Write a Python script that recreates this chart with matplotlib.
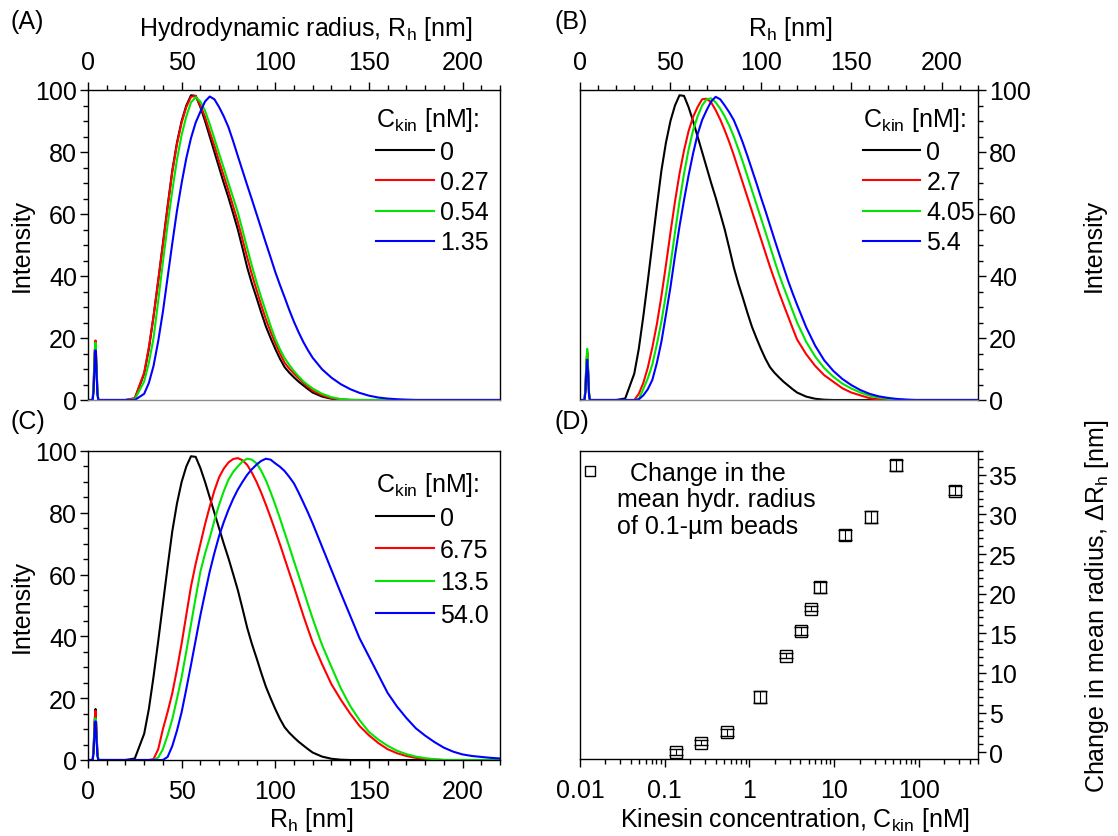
import matplotlib
matplotlib.use("Agg")
import matplotlib.pyplot as plt
from matplotlib.lines import Line2D
from matplotlib.ticker import MultipleLocator, LogLocator, FixedLocator, FixedFormatter, NullFormatter

plt.rcParams["font.family"] = ["Liberation Sans", "DejaVu Sans"]
plt.rcParams["mathtext.default"] = "regular"
plt.rcParams["font.size"] = 18

# hydrodynamic radius sampling (nm): narrow peak near 4 nm, then the main distribution
rh_spike = [0, 2.5, 3.0, 3.5, 4.0, 4.5, 5.0, 5.5, 6.0]
rh_main = [20, 25] + [30 + 2.5 * i for i in range(37)] + list(range(125, 225, 5))

# intensity of the main peak, read on rh_main
int_control = [0, 0.5,
               8.5, 16.5, 27, 38.5, 50.5, 62.5, 74, 83, 90, 95, 98.3, 98.1, 94.5, 90, 85, 80, 75, 70,
               65.3, 60.2, 55, 49, 42.8, 37.6, 33, 28.2, 23.7, 20, 16.5, 13.3, 10.6, 8.8, 7.3, 5.9, 4.7, 3.5, 2.4,
               1.1, 0.4, 0.1] + [0] * 17
int_027 = [0, 0.6,
           8.8, 17, 27, 38.5, 50, 62, 73.5, 82.5, 89.5, 94.5, 97.8, 98.1, 95, 91.3, 86.5, 82, 77, 72.3,
           67.5, 62.5, 57.5, 51.8, 46, 40.5, 35.5, 30.6, 26, 22, 18.3, 15, 12, 10.1, 8.5, 7, 5.5, 4.2, 3,
           1.5, 0.6, 0.2] + [0] * 17
int_054 = [0, 0.2,
           6, 12, 20, 32, 44.5, 56.5, 67.5, 77.5, 85.5, 91.5, 96, 97.7, 96.3, 93.3, 89, 84.3, 79.5, 74.8,
           70, 65.3, 60.5, 54.8, 49, 43.3, 38, 33.1, 28.5, 23.9, 19.7, 16.4, 13.5, 11.3, 9.3, 7.6, 6, 4.8, 3.7,
           2, 0.9, 0.3, 0.1] + [0] * 16
int_135 = [0, 0,
           2, 5.5, 11, 19, 28.5, 39.5, 50.5, 61, 70, 78, 84.5, 89.5, 93, 96.3, 97.9, 97, 94.5, 91.5,
           88, 83.5, 78.7, 74, 69.3, 64.7, 60, 55.3, 50.6, 46, 41.3, 37.1, 33.1, 29, 25.2, 21.8, 18.7, 16, 13.6,
           9.9, 7.2, 5.1, 3.5, 2.3, 1.4, 0.8, 0.45, 0.25, 0.1] + [0] * 10
int_27 = [0, 0,
          0, 2, 5.5, 10.5, 17, 24.5, 33.5, 43.5, 54, 64, 73, 80.5, 86.7, 91.3, 94.5, 97, 97.2, 96,
          93.5, 90.5, 87, 83.2, 79, 74.5, 70, 65.5, 61, 56.5, 52, 47.5, 43, 38.8, 34.7, 30.8, 27, 23.2, 19.5,
          14.8, 11, 8, 5.9, 3.8, 2.4, 1.5, 0.6, 0.25, 0.05] + [0] * 10
int_405 = [0, 0,
           0, 0.3, 3.5, 7, 11.5, 18, 25.3, 34, 43.5, 54, 64, 73, 80.7, 87, 91.5, 95, 97, 97.3,
           96, 94, 91.5, 88.5, 85, 81, 76.8, 72.3, 67.7, 63.2, 58.7, 54.2, 49.6, 45, 40.5, 36.5, 32.7, 28.8, 25,
           18.8, 14, 10.3, 7.5, 5.3, 3.7, 2.4, 1.4, 0.8, 0.4, 0.15] + [0] * 9
int_54 = [0, 0,
          0, 0.2, 1.5, 3.5, 6.5, 12, 18.8, 27.5, 36.4, 46.5, 56, 64.5, 72.4, 79.5, 85.7, 90.3, 93.5, 96.3,
          97.8, 97, 95, 92.8, 90.3, 86.8, 83, 78.8, 74.4, 70, 65.4, 61, 56.4, 51.8, 47.3, 42.9, 38.5, 34.5, 30.7,
          23.5, 17.5, 12.8, 9.4, 6.8, 4.8, 3.2, 2, 1.2, 0.7, 0.35, 0.15] + [0] * 8
int_675 = [0, 0,
           0, 0, 0.3, 3.5, 10, 15.5, 21.6, 29.3, 37.7, 47, 56.2, 63.5, 69.9, 76.3, 82, 87.2, 91.5, 94.3,
           96.3, 97.4, 97.7, 97, 95.5, 93, 90, 86.5, 82.6, 78.5, 74.2, 69.8, 65.2, 60.6, 56.1, 51.4, 46.7, 42.3, 38,
           31, 24.5, 19.5, 15, 11, 8, 5.5, 3.5, 2.2, 1.3, 0.7, 0.35, 0.15] + [0] * 7
int_135b = [0, 0,
            0, 0, 0, 0.8, 3.5, 8, 13.2, 19.8, 26.8, 35.2, 43.9, 52.6, 60.9, 66.8, 71.9, 77.5, 82.6, 87,
            90.7, 93.2, 95, 96.6, 97.5, 97.2, 96, 93.6, 90.5, 86.7, 82.6, 78.2, 73.6, 69, 64.3, 59.7, 55, 50.3, 45.7,
            37.2, 30.1, 23.2, 17.5, 12.9, 9.1, 6.6, 4.6, 3, 1.9, 1.1, 0.6, 0.25] + [0] * 7
int_540 = [0, 0,
           0, 0, 0, 0, 0, 1, 4.5, 9.5, 15.5, 23, 30.8, 38.8, 46.8, 54, 61, 67, 72.5, 77,
           81, 84.5, 87.5, 90, 92.3, 94.1, 95.6, 96.8, 97.5, 97.2, 96, 94.9, 93.5, 91.6, 89.5, 86.5, 83.3, 80, 76.5,
           69, 61.5, 54, 46.7, 39.4, 33.5, 27.6, 21.7, 17.3, 13.6, 10.3, 7.9, 5.8, 4, 2.7, 1.8, 1.3, 1, 0.7, 0.5]

# small peak near 4 nm, read on rh_spike
spike_a = [[0, 0, 4, 14, 19, 11, 3, 0, 0], [0, 0, 5, 15, 19.2, 12, 3, 0, 0],
           [0, 0, 4.5, 14, 18.5, 11.5, 3, 0, 0], [0, 0, 3, 11, 16, 10, 2, 0, 0]]
spike_b = [[0, 0, 3.5, 11, 15, 9, 2, 0, 0], [0, 0, 3.5, 11.5, 15.5, 9.5, 2, 0, 0],
           [0, 0, 4, 12, 16.5, 10, 2.5, 0, 0], [0, 0, 2.5, 9, 13, 8, 1.5, 0, 0]]
spike_c = [[0, 0, 4, 12, 16.5, 10, 2.5, 0, 0], [0, 0, 3.5, 11.5, 16, 9.5, 2.5, 0, 0],
           [0, 0, 3, 10, 13.5, 8.5, 2, 0, 0], [0, 0, 2.5, 9, 12.5, 7.5, 1.5, 0, 0]]

labels_a = ["0", "0.27", "0.54", "1.35"]
labels_b = ["0", "2.7", "4.05", "5.4"]
labels_c = ["0", "6.75", "13.5", "54.0"]
curves_a = [int_control, int_027, int_054, int_135]
curves_b = [int_control, int_27, int_405, int_54]
curves_c = [int_control, int_675, int_135b, int_540]

# panel D: change in mean hydrodynamic radius vs kinesin concentration
conc = [0.135, 0.27, 0.54, 1.35, 2.7, 4.05, 5.4, 6.75, 13.5, 27, 54, 270]
delta_rh = [0.0, 1.2, 2.5, 7.0, 12.2, 15.3, 18.1, 20.8, 27.4, 29.7, 36.2, 33.0]
delta_rh_err = [0.35, 0.3, 0.4, 0.75, 0.3, 0.5, 0.3, 0.7, 0.6, 0.75, 0.7, 0.6]

colors = ["#000000", "#ff0000", "#00e600", "#0000ff"]
W, H = 1118, 837

for cur in curves_a + curves_b + curves_c:
    assert len(cur) == len(rh_main)


def px_axes(left, top, right, bottom):
    return [left / W, 1 - bottom / H, (right - left) / W, (bottom - top) / H]


def style_ticks(ax, xpad=8):
    ax.tick_params(which="major", direction="out", length=6, width=1)
    ax.tick_params(which="minor", direction="out", length=3.5, width=1)
    ax.tick_params(axis="x", which="major", pad=xpad)
    ax.tick_params(axis="y", which="major", pad=2)
    for sp in ax.spines.values():
        sp.set_linewidth(1)


def draw_distribution(ax, curves, spikes, labels, legend_y, spacing, xpad):
    for cur, spk, lab, col in zip(curves, spikes, labels, colors):
        ax.plot(rh_spike + rh_main, spk + cur, color=col, lw=1.5, label=lab)
    ax.set_xlim(0, 220)
    ax.set_ylim(0, 100)
    ax.xaxis.set_major_locator(MultipleLocator(50))
    ax.xaxis.set_minor_locator(MultipleLocator(10))
    ax.yaxis.set_major_locator(MultipleLocator(20))
    ax.yaxis.set_minor_locator(MultipleLocator(5))
    style_ticks(ax, xpad)
    ax.legend(title="C$_{kin}$ [nM]:", loc="upper left", bbox_to_anchor=(0.70, legend_y),
              frameon=False, handlelength=2.3, handletextpad=0.25, labelspacing=spacing,
              borderpad=0, borderaxespad=0, alignment="left", fontsize=18, title_fontsize=18)


fig = plt.figure(figsize=(W / 100, H / 100), dpi=100)

ax_a = fig.add_axes(px_axes(88, 91, 500, 401))
draw_distribution(ax_a, curves_a, spike_a, labels_a, 0.95, 0.25, 5.5)
ax_a.xaxis.tick_top()
ax_a.xaxis.set_label_position("top")
ax_a.set_xlabel("Hydrodynamic radius, R$_h$ [nm]")
ax_a.xaxis.set_label_coords(0.529, 1.177)
ax_a.set_ylabel("Intensity")
ax_a.yaxis.set_label_coords(-0.131, 0.5)
ax_a.spines["bottom"].set_color("#8c8c8c")

ax_b = fig.add_axes(px_axes(580, 91, 978, 401))
draw_distribution(ax_b, curves_b, spike_b, labels_b, 0.95, 0.25, 5.5)
ax_b.legend_.set_bbox_to_anchor((0.71, 0.95), transform=ax_b.transAxes)
ax_b.xaxis.tick_top()
ax_b.xaxis.set_label_position("top")
ax_b.yaxis.tick_right()
ax_b.yaxis.set_label_position("right")
ax_b.set_xlabel("R$_h$ [nm]")
ax_b.xaxis.set_label_coords(0.528, 1.177)
ax_b.set_ylabel("Intensity")
ax_b.yaxis.set_label_coords(1.261, 0.5)
ax_b.spines["bottom"].set_color("#8c8c8c")

ax_c = fig.add_axes(px_axes(88, 452, 500, 761))
draw_distribution(ax_c, curves_c, spike_c, labels_c, 0.94, 0.33, 8)
ax_c.set_xlabel("R$_h$ [nm]")
ax_c.xaxis.set_label_coords(0.541, -0.146)
ax_c.set_ylabel("Intensity")
ax_c.yaxis.set_label_coords(-0.131, 0.5)

ax_d = fig.add_axes(px_axes(580, 452, 978, 760))
ax_d.errorbar(conc, delta_rh, yerr=delta_rh_err, fmt="s", ms=8.5, mfc="none", mec="black",
              mew=1, ecolor="black", elinewidth=0.8, capsize=5, capthick=0.8)
ax_d.set_xscale("log")
ax_d.set_xlim(0.01, 500)
ax_d.set_ylim(-0.85, 38)
ax_d.xaxis.set_major_locator(FixedLocator([0.01, 0.1, 1, 10, 100]))
ax_d.xaxis.set_major_formatter(FixedFormatter(["0.01", "0.1", "1", "10", "100"]))
ax_d.xaxis.set_minor_locator(LogLocator(base=10, subs=range(2, 10), numticks=20))
ax_d.xaxis.set_minor_formatter(NullFormatter())
ax_d.yaxis.tick_right()
ax_d.yaxis.set_label_position("right")
ax_d.yaxis.set_major_locator(MultipleLocator(5))
ax_d.yaxis.set_minor_locator(MultipleLocator(1))
style_ticks(ax_d)
ax_d.set_xlabel("Kinesin concentration, C$_{kin}$ [nM]")
ax_d.xaxis.set_label_coords(0.54, -0.149)
ax_d.set_ylabel("Change in mean radius, $\\Delta$R$_h$ [nm]")
ax_d.yaxis.set_label_coords(1.263, 0.5)

marker_handle = Line2D([], [], ls="none", marker="s", ms=7, mfc="none", mec="black", mew=1)
ax_d.legend([marker_handle], ["Change in the"], loc="upper left", bbox_to_anchor=(-0.02, 0.985),
            frameon=False, handlelength=1.0, handletextpad=1.1, borderpad=0.2, borderaxespad=0,
            fontsize=18)
ax_d.text(0.092, 0.80, "mean hydr. radius\nof 0.1-µm beads", transform=ax_d.transAxes,
          ha="left", va="center", fontsize=18, linespacing=1.2)

for lab, x, y in [("(A)", 10, 22), ("(B)", 555, 22), ("(C)", 10, 422), ("(D)", 555, 422)]:
    fig.text(x / W, 1 - y / H, lab, ha="left", va="center", fontsize=18)

fig.savefig("out.png", dpi=100)
